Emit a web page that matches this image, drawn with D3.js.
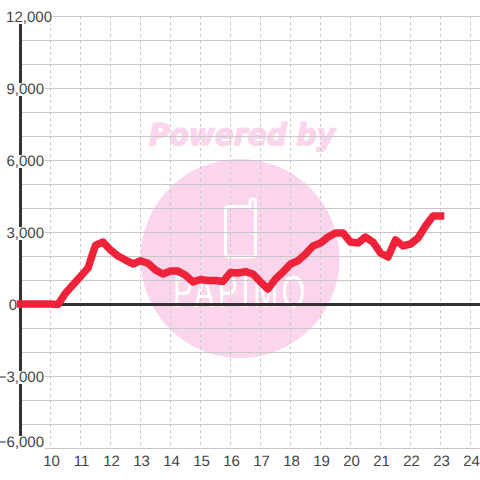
<!DOCTYPE html>
<html>
<head>
<meta charset="utf-8">
<script src="https://cdnjs.cloudflare.com/ajax/libs/d3/7.8.5/d3.min.js"></script>
<style>
html, body { margin: 0; padding: 0; background: #fff; }
svg { display: block; }
text { font-family: "Liberation Sans", Arial, sans-serif; text-rendering: geometricPrecision; }
</style>
</head>
<body>
<div id="chart"></div>
<script>
// one reading every 15 minutes from 9:00 to 23:00
var hours = d3.range(9, 23.25, 0.25);
var morningValues = [0, 0, 0, 0];
var dayValues = [
	0, -20, 450, 800, 1150, 1500, 2450, 2580,
	2250, 2000, 1830, 1670, 1800, 1700, 1420, 1250,
	1370, 1370, 1200, 920, 1020, 980, 980, 940,
	1310, 1290, 1350, 1250, 920, 625, 1040, 1330,
	1670, 1800, 2080, 2420, 2540, 2790, 2960, 2960,
	2580, 2540, 2790, 2580, 2125, 1960, 2670, 2420,
	2500, 2750, 3250, 3670, 3670
];
var series = morningValues.concat(dayValues);
var xTicks = d3.range(10, 25);
var yTicks = [12000, 9000, 6000, 3000, 0, -3000, -6000];
var yGrid = d3.range(-6000, 13000, 1000);

var width = 480, height = 480;
var x = d3.scaleLinear().domain([10, 24]).range([50.5, 470.5]);
var y = d3.scaleLinear().domain([-6000, 12000]).range([448, 16]);

var svg = d3.select("#chart").append("svg")
	.attr("width", width)
	.attr("height", height);

//Watermark logo behind the grid
var logo = svg.append("g").attr("class", "logo");
logo.append("circle")
	.attr("cx", 240).attr("cy", 258.5).attr("r", 99.5)
	.style("fill", "#fbd5ec");
logo.append("text")
	.attr("x", 242).attr("y", 145)
	.attr("text-anchor", "middle")
	.attr("textLength", 186)
	.attr("lengthAdjust", "spacingAndGlyphs")
	.style("font-family", "'DejaVu Sans', sans-serif")
	.style("font-size", "30px")
	.style("font-weight", "bold")
	.style("font-style", "italic")
	.style("fill", "#fbd5ec")
	.style("stroke", "#fbd5ec")
	.style("stroke-width", 1.5)
	.text("Powered by");
logo.append("path")
	.attr("d", "M229 206.5 H250 V201 Q250 199 252.5 199 Q255.5 199 255.5 201 V253 Q255.5 257 252 257 H229 Q225.5 257 225.5 253 V210 Q225.5 206.5 229 206.5 Z")
	.style("fill", "none")
	.style("stroke", "#fff")
	.style("stroke-width", 3);
//small font stretched upward, the logo lettering is tall and thin
logo.append("text")
	.attr("transform", "translate(239,307) scale(1,1.5)")
	.attr("text-anchor", "middle")
	.attr("textLength", 132)
	.attr("lengthAdjust", "spacing")
	.style("font-family", "'Liberation Sans Narrow', 'Liberation Sans', sans-serif")
	.style("font-size", "30px")
	.style("fill", "#fff")
	.text("PAPIMO");

//Grid
svg.append("g").selectAll("line.h")
	.data(yGrid).enter().append("line")
	.attr("class", "h")
	.attr("x1", 20).attr("x2", width)
	.attr("y1", function(d) { return y(d) + 0.5; })
	.attr("y2", function(d) { return y(d) + 0.5; })
	.style("stroke", "#c8c8c8")
	.style("stroke-width", 1);

svg.append("g").selectAll("line.v")
	.data(xTicks).enter().append("line")
	.attr("class", "v")
	.attr("x1", function(d) { return x(d); })
	.attr("x2", function(d) { return x(d); })
	.attr("y1", y(12000)).attr("y2", y(-6000))
	.style("stroke", "#c8c8c8")
	.style("stroke-width", 1)
	.style("stroke-dasharray", "3,3");

//Axis lines
svg.append("line")
	.attr("x1", 20.5).attr("x2", 20.5)
	.attr("y1", y(12000)).attr("y2", y(-6000))
	.style("stroke", "#333")
	.style("stroke-width", 3);
svg.append("line")
	.attr("x1", 20).attr("x2", width)
	.attr("y1", y(0) + 0.5).attr("y2", y(0) + 0.5)
	.style("stroke", "#333")
	.style("stroke-width", 3);

//Y labels sit on a white box that cuts the axis and grid
function labelEnd(d) {
	if (d == 12000) return 52;
	if (d == 0) return 17;
	return 44;
}
function labelBase(d) {
	return d == -6000 ? y(d) - 1 : y(d) + 6;
}
var yLabels = svg.append("g").selectAll("g")
	.data(yTicks).enter().append("g");
yLabels.append("rect")
	.attr("x", 0)
	.attr("y", function(d) { return labelBase(d) - 11; })
	.attr("width", function(d) { return labelEnd(d) + 1; })
	.attr("height", 13)
	.style("fill", "#fff");
yLabels.append("text")
	.attr("x", labelEnd)
	.attr("y", labelBase)
	.attr("text-anchor", "end")
	.style("font-size", "15px")
	.style("fill", "#444")
	.text(function(d) { return d3.format(",")(d); });

svg.append("g").selectAll("text")
	.data(xTicks).enter().append("text")
	.attr("x", function(d) { return x(d) + 1; })
	.attr("y", 466)
	.attr("text-anchor", "middle")
	.style("font-size", "15px")
	.style("fill", "#444")
	.text(function(d) { return d; });

//The line itself
var line = d3.line()
	.x(function(d, i) { return x(hours[i]); })
	.y(function(d) { return y(d); });

svg.append("path")
	.datum(series)
	.attr("d", line)
	.style("fill", "none")
	.style("stroke", "#ee2238")
	.style("stroke-width", 7.5)
	.style("stroke-linecap", "square")
	.style("stroke-linejoin", "round");
</script>
</body>
</html>
